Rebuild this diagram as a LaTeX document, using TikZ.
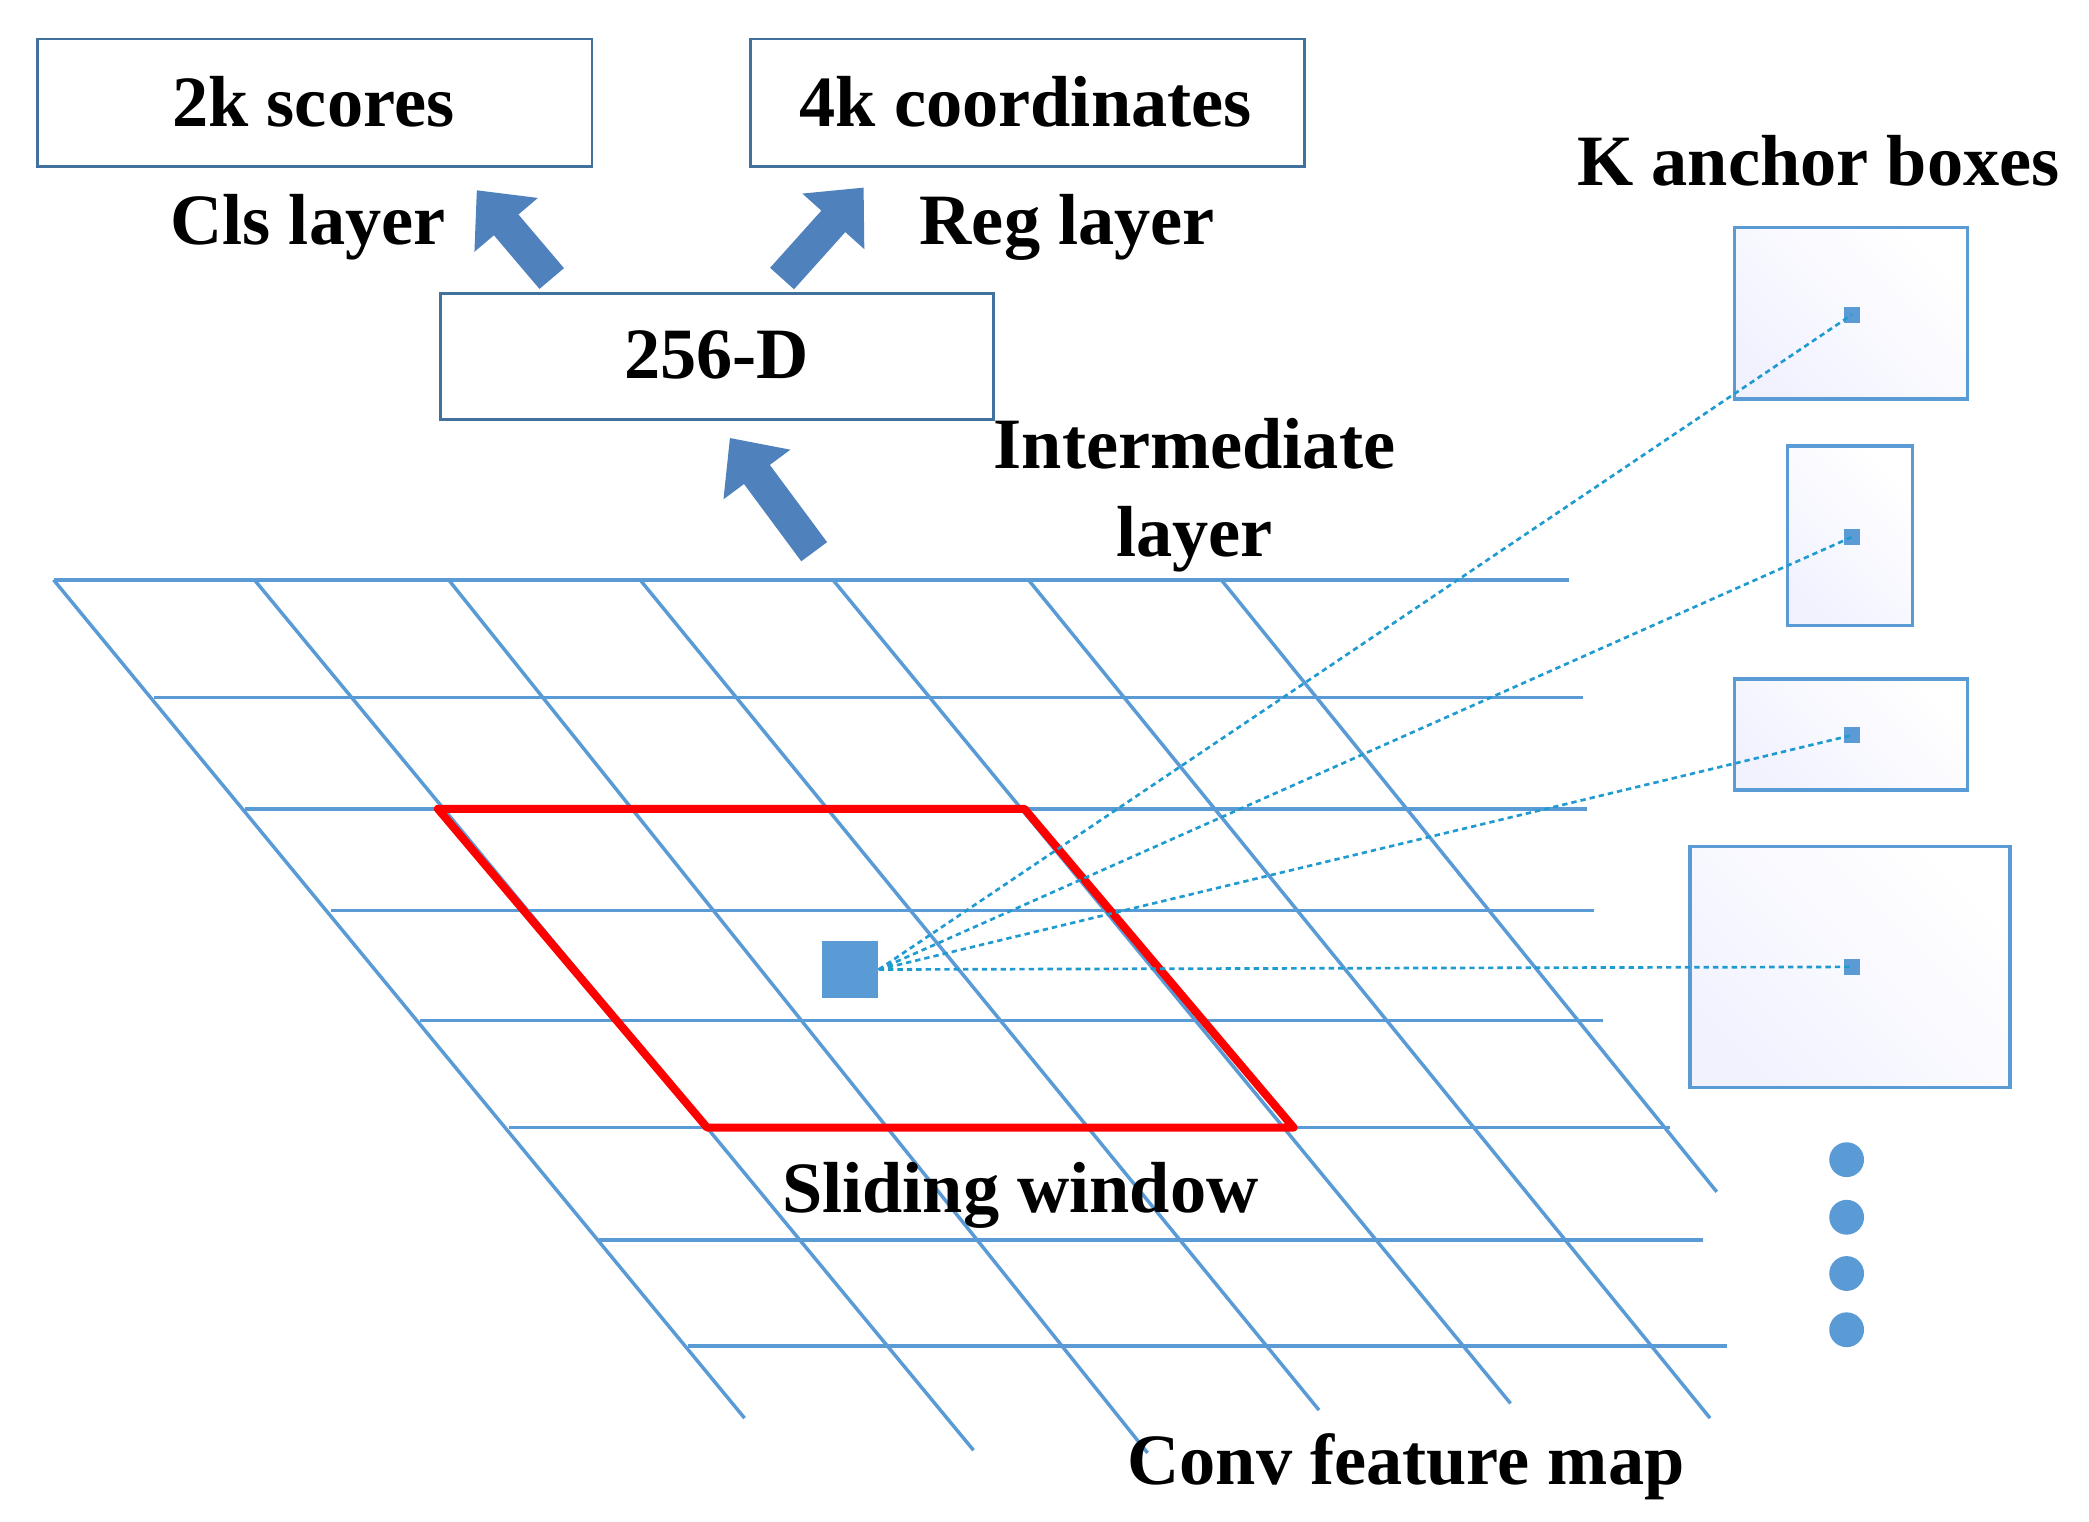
\documentclass[tikz,border=0pt]{standalone}
\usepackage{fontspec}
\setmainfont{Liberation Serif}
\usetikzlibrary{arrows.meta}
\definecolor{gridb}{HTML}{5B9BD5}
\definecolor{boxb}{HTML}{41719C}
\definecolor{arrb}{HTML}{4F81BD}
\definecolor{dotb}{HTML}{1F9BD0}
\begin{document}
\begin{tikzpicture}[x=1pt,y=-1pt,
  lbl/.style={font=\bfseries\fontsize{54}{66}\selectfont,inner sep=0pt},
  box/.style={draw=boxb,line width=2.2pt},
  grid/.style={gridb,line width=2.6pt},
  barr/.style={arrb,line width=24pt,-{Triangle[length=34pt,width=60pt]}},
  ab/.style={draw=gridb,line width=2.4pt},
  dl/.style={dotb,line width=2pt,dash pattern=on 4pt off 3pt}]
\useasboundingbox (0,0) rectangle (1560,1136);
% grid
\foreach \y/\a/\b in {433/40/1172,521/115/1182,604/183/1185,680/247/1190,762/314/1197,842/380/1247,926/447/1272,1005/514/1290}
  \draw[grid] (\a,\y) -- (\b,\y);
\foreach \a/\bx/\by in {40/556/1059,190/727/1083,335/857/1085,478/985/1053,622/1128/1048,768/1277/1059,912/1282/890}
  \draw[grid] (\a,433) -- (\bx,\by);
% red window
\draw[red,line width=6pt,line join=round] (327,604) -- (765,604) -- (966,842) -- (528,842) -- cycle;
% boxes
\node[box,minimum width=414pt,minimum height=95pt,anchor=north west] (s) at (27,28) {};
\node[lbl] at (234,76) {2k scores};
\node[box,minimum width=414pt,minimum height=95pt,anchor=north west] (c) at (559,28) {};
\node[lbl] at (766,76) {4k coordinates};
\node[box,minimum width=413pt,minimum height=94pt,anchor=north west] (d) at (328,218) {};
\node[lbl] at (535,265) {256-D};
% block arrows
\coordinate (a1s) at (412,208); \coordinate (a1e) at (356,142);
\coordinate (a2s) at (584,208); \coordinate (a2e) at (645,140);
\coordinate (a3s) at (608,412); \coordinate (a3e) at (545,327);
\draw[barr] (a1s) -- (a1e);
\draw[barr] (a2s) -- (a2e);
\draw[barr] (a3s) -- (a3e);
% labels
\node[lbl] at (230,170) {Cls layer};
\node[lbl] at (797,170) {Reg layer};
\node[lbl] at (1358,120) {K anchor boxes};
\node[lbl,align=center] at (892,370) {Intermediate\\layer};
\node[lbl] at (762,893) {Sliding window};
\node[lbl] at (1050,1095) {Conv feature map};
% anchor boxes
\foreach \xa/\ya/\xb/\yb in {1295/170/1469/298,1335/333/1428/467,1295/507/1469/590,1262/632/1501/812}{
  \shade[left color=blue!5,right color=white,shading angle=135] (\xa,\ya) rectangle (\xb,\yb);
  \draw[ab] (\xa,\ya) rectangle (\xb,\yb);
}
% centre square and anchor points
\node[fill=gridb,minimum size=42pt,inner sep=0pt] (sq) at (635,724) {};
\foreach \n/\y in {p1/235,p2/401,p3/549,p4/722}{
  \node[fill=gridb,minimum size=12pt,inner sep=0pt] (\n) at (1383,\y) {};
  \draw[dl] (sq.east) -- (\n.center);
}
% dots
\foreach \y in {866,909,951,993}
  \fill[gridb] (1379,\y) circle (13pt);
\end{tikzpicture}
\end{document}
